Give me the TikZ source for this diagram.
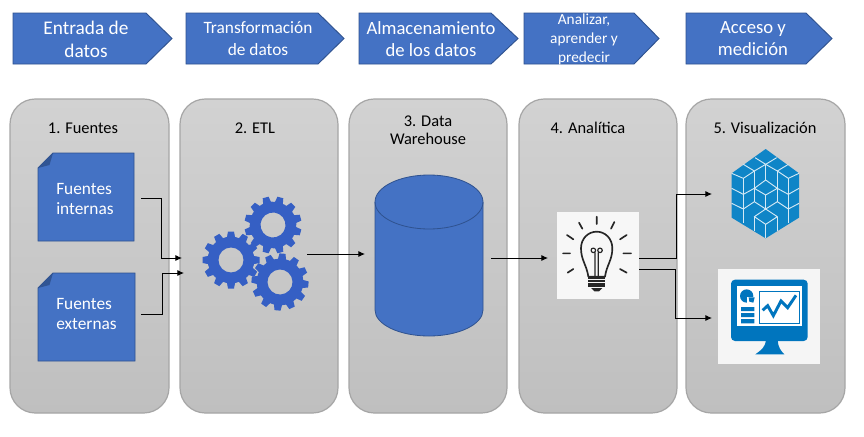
\documentclass[tikz,border=0pt]{standalone}
\usepackage{fontspec}
\setmainfont{Carlito}
\usetikzlibrary{arrows.meta}
\definecolor{bluefill}{HTML}{4472C4}
\definecolor{blueedge}{HTML}{2F528F}
\definecolor{gearblue}{HTML}{355FC4}
\definecolor{iconblue}{HTML}{0F85C7}
\definecolor{monblue}{HTML}{0075BE}
\definecolor{paneledge}{HTML}{A6A6A6}
\definecolor{panelTop}{HTML}{D2D2D2}
\definecolor{panelBot}{HTML}{BFBFBF}
\tikzset{
  x=0.75pt,y=-0.75pt,
  panelbox/.style={draw=paneledge,line width=0.9pt,rounded corners=19pt,top color=panelTop,bottom color=panelBot},
  chevron/.style={fill=bluefill,draw=blueedge,line width=0.7pt},
  chevtext/.style={text=white,align=center,inner sep=0pt,font=\fontsize{#1}{#1}\selectfont},
  paneltitle/.style={align=center,text=black,inner sep=0pt,font=\fontsize{12.3}{13}\selectfont},
  notebox/.style={fill=bluefill,draw=blueedge,line width=0.7pt},
  notetext/.style={text=white,align=left,inner sep=0pt,font=\fontsize{13}{15}\selectfont},
  link/.style={draw=black,line width=0.65pt,-{Latex[length=5pt,width=4.5pt]}},
  cubeline/.style={draw=white!82!iconblue,line width=0.7pt,line join=round},
  bulbline/.style={draw=black!85,line width=1.25pt,line cap=round,line join=round},
  zoomcoords/.style={x=0.25pt,y=-0.25pt},
}
\newcommand{\mygear}[3]{% cx, cy, rotation
  \begin{scope}[shift={(#1,#2)},rotate=#3]
    \fill[gearblue,even odd rule] (0,0) circle[radius=17.5pt] (0,0) circle[radius=9.4pt];
    \foreach \a in {0,30,...,330}{
      \fill[gearblue,rotate=\a] (21,-4.4) -- (28.5,-3) -- (28.5,3) -- (21,4.4) -- cycle;
    }
  \end{scope}
}
\begin{document}
\begin{tikzpicture}
\useasboundingbox (0,0) rectangle (864,436);
\fill[white] (0,0) rectangle (864,436);

% chevrons
\foreach \a/\b/\c in {13/146/172,186/318/344,359/491/518,524/634/659,686/806/832}{
  \draw[chevron] (\a,13) -- (\b,13) -- (\c,38.5) -- (\b,64) -- (\a,64) -- cycle;
}
\node[chevtext=14.5] (t1) at (86,39.5) {Entrada de\\[3pt]datos};
\node[chevtext=13] (t2) at (258,38.5) {Transformación\\[3pt]de datos};
\node[chevtext=14] (t3) at (431,39) {Almacenamiento\\[2.5pt]de los datos};
\node[chevtext=11.5] (t4) at (584,39.5) {Analizar,\\[3pt]aprender y\\[3pt]predecir};
\node[chevtext=14] (t5) at (753,39) {Acceso y\\[2.5pt]medición};

% panels
\foreach \a/\b in {10/169,180/338,349/507,519/677,686/845}{
  \path[panelbox] (\a,99) rectangle (\b,413);
}
\node[paneltitle] (p1) at (83,128) {1. Fuentes};
\node[paneltitle] (p2) at (255,128) {2. ETL};
\node[paneltitle] (p3) at (428,130) {3. Data\\[0.5pt]Warehouse};
\node[paneltitle] (p4) at (588,128) {4. Analítica};
\node[paneltitle] (p5) at (765,128) {5. Visualización};

% notes
\foreach \t/\b/\r in {153/241/134,273/361/135}{
  \draw[notebox] (53,\t) -- (\r,\t) -- (\r,\b) -- (38,\b) -- (38,\t+15) -- cycle;
  \fill[blueedge!90!bluefill] (53,\t) -- (38,\t+15) -- (49.5,\t+12) -- cycle;
}
\node[notetext,anchor=west] (n1) at (56,199) {Fuentes\\internas};
\node[notetext,anchor=west] (n2) at (56,314) {Fuentes\\externas};

% gears
\mygear{231}{260}{0}
\mygear{273}{225}{15}
\mygear{280}{282}{25}

% cylinder
\draw[fill=bluefill,draw=blueedge,line width=0.6pt]
  (375,202) -- (375,310) arc[start angle=180,end angle=360,x radius=40.5pt,y radius=19.5pt]
  -- (483,202) arc[start angle=0,end angle=180,x radius=40.5pt,y radius=20.25pt] -- cycle;
\draw[blueedge,line width=0.6pt] (375,202) arc[start angle=180,end angle=360,x radius=40.5pt,y radius=20.25pt];

% bulb tile
\fill[white!97!black] (557,212) rectangle (639,299);
\begin{scope}[shift={(555,210)},zoomcoords]
  \draw[bulbline]
    (125,20) -- (125,42) (72,38) -- (82,56) (178,36) -- (168,56)
    (36,75) -- (55,88) (215,75) -- (195,88) (24,130) -- (45,130)
    (205,130) -- (228,130) (38,188) -- (55,177) (195,177) -- (215,188);
  \draw[bulbline] (100,200) .. controls (95,165) and (78,150) .. (78,115)
    .. controls (78,85) and (100,65) .. (125,65)
    .. controls (150,65) and (172,85) .. (172,115)
    .. controls (172,150) and (155,165) .. (150,200) -- cycle;
  \draw[bulbline,line width=0.9pt] (120,200) -- (120,128) (130,200) -- (130,128)
    (115,121) circle[radius=1.7pt] (135,121) circle[radius=1.7pt];
  \foreach \y in {205,213,221,229}{\draw[bulbline,line cap=butt,line width=1.4pt] (100,\y) -- (150,\y);}
  \fill[black!85] (108,234) -- (142,234) -- (132,244) -- (118,244) -- cycle;
\end{scope}

% cube icon
\begin{scope}[shift={(725,145)},zoomcoords]
  \fill[iconblue] (122,12) -- (222,85) -- (222,218) -- (122,280) -- (20,218) -- (20,85) -- cycle;
  \begin{scope}[cubeline]
    \draw (90,38) -- (122,58) -- (155,38);
    \draw (55,58) -- (88,78) -- (122,58) -- (157,78) -- (190,58);
    \draw (20,85) -- (55,100) -- (88,78) (222,85) -- (190,100) -- (157,78);
    \draw (122,58) -- (122,105);
    \draw (88,130) -- (122,105) -- (157,130) -- (122,150) -- cycle;
    \draw (55,100) -- (55,148) (88,78) -- (88,170) (157,78) -- (157,170) (190,100) -- (190,148);
    \draw (20,130) -- (55,148) -- (88,130) (157,130) -- (190,148) -- (222,130);
    \draw (122,150) -- (122,192);
    \draw (55,148) -- (55,235) (190,148) -- (190,235);
    \draw (20,175) -- (55,192) -- (88,170) -- (122,192) -- (157,170) -- (190,192) -- (222,175);
    \draw (88,215) -- (122,192) -- (157,215) -- (122,238) -- cycle;
    \draw (122,238) -- (122,280) (88,215) -- (88,258) (157,215) -- (157,258);
  \end{scope}
\end{scope}

% monitor tile
\fill[white!96!black] (718,269) rectangle (820,364);
\begin{scope}[shift={(716,267)},zoomcoords]
  \fill[monblue,rounded corners=3pt] (45,38) rectangle (275,222);
  \fill[monblue] (150,220) -- (185,220) .. controls (186,240) and (195,252) .. (205,262)
    -- (118,262) .. controls (135,250) and (148,240) .. (150,220) -- cycle;
  \fill[white] (62,57) rectangle (258,178);
  \draw[monblue,line width=0.75pt] (130,72) rectangle (250,170);
  \fill[monblue] (92,87) circle[radius=5pt];
  \fill[white] (94,89) rectangle (118,112);
  \fill[monblue] (98,91) -- (116,91) -- (112,107) -- (100,104) -- cycle;
  \fill[monblue] (75,120) rectangle (115,132) (75,138) rectangle (115,150) (75,156) rectangle (115,169);
  \draw[monblue,line width=2.2pt,line join=miter] (140,130) -- (155,116) -- (172,146) -- (195,102) -- (215,122) -- (240,85);
\end{scope}

% named connector ends
\coordinate (a1) at (141,198);
\coordinate (a2) at (182,258);
\coordinate (b1) at (141,314);
\coordinate (b2) at (184,273);
\coordinate (e1) at (307,254);
\coordinate (e2) at (365,254);
\coordinate (d1) at (491,258);
\coordinate (d2) at (548,258);
\coordinate (l1) at (639,258);
\coordinate (l2) at (712,194);
\coordinate (m1) at (639,269);
\coordinate (m2) at (712,318);
\draw[link] (a1) -- (161,198) -- (161,258) -- (a2);
\draw[link] (b1) -- (162,314) -- (162,273) -- (b2);
\draw[link] (e1) -- (e2);
\draw[link] (d1) -- (d2);
\draw[link] (l1) -- (676,258) -- (676,194) -- (l2);
\draw[link] (m1) -- (675,269) -- (675,318) -- (m2);
\end{tikzpicture}
\end{document}
